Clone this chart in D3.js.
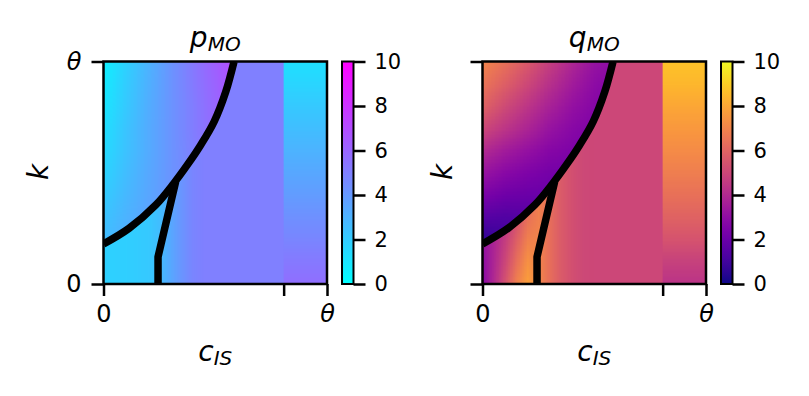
<!DOCTYPE html>
<meta charset="utf-8">
<style>
    body { margin: 0; background: #fff; }
    text { font-family: "DejaVu Sans", sans-serif; }
    .domain { display: none; }
</style>
<script src="https://cdn.jsdelivr.net/npm/d3@7"></script>

<div id="svg-holder"></div>

<script>
    /* Data, in units of theta. */
    var colorTicks = [0, 2, 4, 6, 8, 10];
    var xTickValues = [0, 0.806, 1];
    var xTickLabels = ["0", "", "θ"];
    var yTickValues = [0, 1];
    var yTickLabels = ["0", "θ"];
    var stripStart = 0.806;

    // thick boundary curve
    var curveX = [0, 0.114, 0.233, 0.315, 0.375, 0.435, 0.495, 0.547, 0.584];
    var curveY = [0.18, 0.25, 0.354, 0.453, 0.535, 0.625, 0.73, 0.864, 1.0];
    // branch going down from the curve
    var branchX = [0.323, 0.244, 0.244];
    var branchY = [0.46, 0.122, -0.05];

    // sample positions of the value grids (rows listed top to bottom)
    var gridAX = [0, 0.1, 0.2, 0.3, 0.4, 0.5, 0.6];
    var gridAY = [1.0, 0.9, 0.8, 0.7, 0.6, 0.5, 0.4, 0.3, 0.2, 0.1];
    var gridBX = [0, 0.05, 0.1, 0.15, 0.2, 0.25, 0.3, 0.35, 0.4, 0.45, 0.5, 0.55, 0.6, 0.65, 0.7, 0.75, 0.8];
    var gridBY = [1.0, 0.9, 0.8, 0.7, 0.6, 0.5, 0.4, 0.3, 0.2, 0.1, 0.0];
    var stripY = [1.0, 0.9, 0.8, 0.7, 0.6, 0.5, 0.4, 0.3, 0.2, 0.1, 0.0];

    // p_MO: above the curve
    var pAbove = [
        [0.6, 1.8, 3.0, 4.2, 5.3, 6.3, 7.2],
        [0.8, 2.0, 3.1, 4.2, 5.2, 6.1, 7.0],
        [1.0, 2.1, 3.2, 4.2, 5.1, 6.0, 6.8],
        [1.2, 2.3, 3.3, 4.2, 5.1, 5.9, 6.6],
        [1.4, 2.4, 3.3, 4.2, 5.0, 5.7, 6.4],
        [1.7, 2.6, 3.4, 4.2, 4.9, 5.5, 6.2],
        [2.0, 2.8, 3.5, 4.2, 4.8, 5.4, 6.0],
        [2.3, 3.0, 3.6, 4.2, 4.8, 5.3, 5.8],
        [2.6, 3.2, 3.7, 4.2, 4.7, 5.2, 5.6],
        [2.9, 3.4, 3.8, 4.2, 4.6, 5.0, 5.4]
    ];
    // p_MO: below / right of the curve (same for every row)
    var pBelow = [
        [1.8, 1.85, 1.9, 2.0, 2.1, 2.6, 3.4, 4.2, 4.8, 5.0, 5.0, 5.0, 5.0, 5.0, 5.0, 5.0, 5.0]
    ];
    // p_MO: right strip
    var pStrip = [1.2, 1.65, 2.1, 2.55, 3.0, 3.45, 3.9, 4.35, 4.8, 5.25, 5.7];

    // q_MO: above the curve
    var qAbove = [
        [7.0, 6.4, 5.6, 4.7, 3.9, 3.2, 2.9],
        [6.5, 5.8, 5.0, 4.2, 3.5, 2.9, 2.6],
        [5.9, 5.1, 4.4, 3.7, 3.1, 2.7, 2.4],
        [5.0, 4.4, 3.8, 3.2, 2.8, 2.5, 2.3],
        [4.0, 3.5, 3.1, 2.7, 2.5, 2.3, 2.2],
        [3.2, 2.8, 2.5, 2.3, 2.2, 2.1, 2.0],
        [2.4, 2.1, 2.0, 2.0, 2.0, 2.0, 2.0],
        [1.5, 1.4, 1.5, 1.7, 1.8, 1.9, 1.9],
        [0.6, 0.9, 1.2, 1.5, 1.7, 1.8, 1.9],
        [0.2, 0.6, 1.0, 1.4, 1.6, 1.7, 1.8]
    ];
    // q_MO: below / right of the curve
    var qBelow = [
        [3.6, 3.8, 4.2, 4.9, 5.9, 6.9, 6.3, 5.7, 5.3, 5.05, 5.0, 5.0, 5.0, 5.0, 5.0, 5.0, 5.0],
        [3.6, 3.8, 4.2, 4.9, 5.9, 6.9, 6.3, 5.7, 5.3, 5.05, 5.0, 5.0, 5.0, 5.0, 5.0, 5.0, 5.0],
        [3.6, 3.8, 4.2, 4.9, 5.9, 6.9, 6.3, 5.7, 5.3, 5.05, 5.0, 5.0, 5.0, 5.0, 5.0, 5.0, 5.0],
        [3.6, 3.8, 4.2, 4.9, 5.9, 6.9, 6.3, 5.7, 5.3, 5.05, 5.0, 5.0, 5.0, 5.0, 5.0, 5.0, 5.0],
        [3.6, 3.8, 4.2, 4.9, 5.9, 6.9, 6.3, 5.7, 5.3, 5.05, 5.0, 5.0, 5.0, 5.0, 5.0, 5.0, 5.0],
        [3.6, 3.8, 4.2, 4.9, 5.9, 6.9, 6.3, 5.7, 5.3, 5.05, 5.0, 5.0, 5.0, 5.0, 5.0, 5.0, 5.0],
        [3.6, 3.8, 4.2, 4.9, 5.9, 6.9, 6.3, 5.7, 5.3, 5.05, 5.0, 5.0, 5.0, 5.0, 5.0, 5.0, 5.0],
        [3.4, 3.8, 4.4, 5.3, 6.4, 6.9, 6.3, 5.7, 5.3, 5.05, 5.0, 5.0, 5.0, 5.0, 5.0, 5.0, 5.0],
        [3.2, 3.8, 4.7, 5.8, 6.9, 7.0, 6.3, 5.7, 5.3, 5.05, 5.0, 5.0, 5.0, 5.0, 5.0, 5.0, 5.0],
        [3.0, 3.9, 5.0, 6.3, 7.4, 7.0, 6.3, 5.7, 5.3, 5.05, 5.0, 5.0, 5.0, 5.0, 5.0, 5.0, 5.0],
        [2.8, 4.0, 5.4, 6.9, 7.8, 7.1, 6.3, 5.7, 5.3, 5.05, 5.0, 5.0, 5.0, 5.0, 5.0, 5.0, 5.0]
    ];
    // q_MO: right strip
    var qStrip = [8.7, 8.4, 8.0, 7.6, 7.2, 6.8, 6.4, 5.9, 5.4, 4.8, 4.3];

    /* Layout. */
    var width = 809, height = 396;
    var plotW = 223.5, plotH = 222.5, plotTop = 61.5;
    var cbarW = 11.5;
    var line_w = 2.5;

    var svg = d3.select("#svg-holder").append("svg")
        .attr("width", width).attr("height", height);
    var defs = svg.append("defs");

    var coolScale = d3.scaleSequential(d3.interpolateRgb("#00ffff", "#ff00ff")).domain([0, 10]);
    var plasmaScale = d3.scaleSequential(d3.interpolatePlasma).domain([0, 10]);

    // turns a small value grid into a picture; the browser smooths it when scaled
    function gridImage(values, color) {
        var nr = values.length, nc = values[0].length;
        var canvas = document.createElement("canvas");
        canvas.width = nc; canvas.height = nr;
        var ctx = canvas.getContext("2d");
        var img = ctx.createImageData(nc, nr);
        for (var r = 0; r < nr; r++) {
            for (var c = 0; c < nc; c++) {
                var col = d3.rgb(color(values[r][c]));
                var k = (r * nc + c) * 4;
                img.data[k] = col.r; img.data[k + 1] = col.g; img.data[k + 2] = col.b; img.data[k + 3] = 255;
            }
        }
        ctx.putImageData(img, 0, 0);
        return canvas.toDataURL();
    }

    function extent(arr, lo, hi) {
        if (arr.length < 2) return [lo, hi];
        var step = arr[1] - arr[0];
        return [arr[0] - step / 2, arr[arr.length - 1] + step / 2];
    }

    function drawGrid(g, xs, ys, values, color, x, y, clip) {
        var ex = extent(xs, 0, 1);
        var ey = extent(ys, 1, 0);
        g.append("image")
            .attr("href", gridImage(values, color))
            .attr("x", x(ex[0])).attr("y", y(ey[0]))
            .attr("width", x(ex[1]) - x(ex[0]))
            .attr("height", y(ey[1]) - y(ey[0]))
            .attr("preserveAspectRatio", "none")
            .attr("clip-path", "url(#" + clip + ")");
    }

    function drawPanel(opt) {
        var x = d3.scaleLinear().domain([0, 1]).range([opt.left, opt.left + plotW]);
        var y = d3.scaleLinear().domain([0, 1]).range([plotTop + plotH, plotTop]);
        var id = opt.id;

        var line = d3.line().x(function(d) { return x(d[0]); }).y(function(d) { return y(d[1]); });
        var curvePts = d3.zip(curveX, curveY);
        var curvePath = line.curve(d3.curveCatmullRom)(curvePts);
        var curveTail = "L" + curvePath.slice(1);

        defs.append("clipPath").attr("id", id + "-above").append("path")
            .attr("d", "M" + x(0) + "," + y(1) + curveTail + "Z");
        // the strip is painted over the right end of this one
        defs.append("clipPath").attr("id", id + "-below").append("path")
            .attr("d", "M" + x(0) + "," + y(0) + curveTail +
                  "L" + x(1) + "," + y(1) + "L" + x(1) + "," + y(0) + "Z");
        defs.append("clipPath").attr("id", id + "-strip").append("rect")
            .attr("x", x(stripStart)).attr("y", y(1))
            .attr("width", x(1) - x(stripStart)).attr("height", y(0) - y(1));
        defs.append("clipPath").attr("id", id + "-frame").append("rect")
            .attr("x", x(0)).attr("y", y(1))
            .attr("width", x(1) - x(0)).attr("height", y(0) - y(1));

        var g = svg.append("g");
        drawGrid(g, gridAX, gridAY, opt.above, opt.color, x, y, id + "-above");
        drawGrid(g, gridBX, opt.below.length > 1 ? gridBY : [0.5], opt.below, opt.color, x, y, id + "-below");
        drawGrid(g, [0.9], stripY, opt.strip.map(function(v) { return [v]; }), opt.color, x, y, id + "-strip");

        // thick black lines
        var lines = g.append("g").attr("clip-path", "url(#" + id + "-frame)")
            .attr("fill", "none").attr("stroke", "#000").attr("stroke-width", 7.5)
            .attr("stroke-linejoin", "round");
        lines.append("path").attr("d", line.curve(d3.curveCatmullRom)(curvePts));
        lines.append("path").attr("d", line.curve(d3.curveLinear)(d3.zip(branchX, branchY)));

        // frame
        g.append("rect").attr("x", x(0)).attr("y", y(1))
            .attr("width", x(1) - x(0)).attr("height", y(0) - y(1))
            .attr("fill", "none").attr("stroke", "#000").attr("stroke-width", line_w);

        // axes
        var xAxis = d3.axisBottom(x).tickValues(xTickValues).tickSize(12).tickPadding(9)
            .tickFormat(function(d, i) { return xTickLabels[i]; });
        var yAxis = d3.axisLeft(y).tickValues(yTickValues).tickSize(12).tickPadding(10)
            .tickFormat(function(d, i) { return opt.yLabels ? yTickLabels[i] : ""; });
        var gx = g.append("g").attr("transform", "translate(0," + y(0) + ")").call(xAxis);
        var gy = g.append("g").attr("transform", "translate(" + x(0) + ",0)").call(yAxis);
        [gx, gy].forEach(function(a) {
            a.selectAll(".tick line").attr("stroke", "#000").attr("stroke-width", line_w);
            a.selectAll(".tick text").attr("fill", "#000")
                .style("font-size", "24px")
                .style("font-style", function() { return this.textContent === "θ" ? "italic" : "normal"; });
        });

        // title
        var cx = x(0.5);
        var title = g.append("text").attr("x", cx).attr("y", 47).attr("text-anchor", "middle")
            .style("font-style", "italic");
        title.append("tspan").style("font-size", "28px").text(opt.title[0]);
        title.append("tspan").style("font-size", "20px").attr("dy", 4).text(opt.title[1]);

        // axis labels
        var xl = g.append("text").attr("x", cx).attr("y", 361).attr("text-anchor", "middle")
            .style("font-style", "italic");
        xl.append("tspan").style("font-size", "28px").text("c");
        xl.append("tspan").style("font-size", "20px").attr("dy", 4).text("IS");

        g.append("text").attr("transform", "translate(" + (opt.left - opt.kGap) + "," + 172 + ") rotate(-90)")
            .attr("text-anchor", "middle").style("font-style", "italic").style("font-size", "28px")
            .text("k");

        // colorbar
        var cbLeft = opt.left + plotW + 15;
        var cy = d3.scaleLinear().domain([0, 10]).range([plotTop + plotH, plotTop]);
        var grad = defs.append("linearGradient").attr("id", id + "-grad")
            .attr("x1", 0).attr("y1", 1).attr("x2", 0).attr("y2", 0);
        d3.range(0, 10.01, 0.5).forEach(function(v) {
            grad.append("stop").attr("offset", v / 10).attr("stop-color", opt.color(v));
        });
        g.append("rect").attr("x", cbLeft).attr("y", cy(10))
            .attr("width", cbarW).attr("height", cy(0) - cy(10))
            .attr("fill", "url(#" + id + "-grad)")
            .attr("stroke", "#000").attr("stroke-width", 2);
        var cAxis = d3.axisRight(cy).tickValues(colorTicks).tickSize(12).tickPadding(9);
        var gc = g.append("g").attr("transform", "translate(" + (cbLeft + cbarW) + ",0)").call(cAxis);
        gc.selectAll(".tick line").attr("stroke", "#000").attr("stroke-width", line_w);
        gc.selectAll(".tick text").attr("fill", "#000").style("font-size", "21px");
    }

    drawPanel({ id: "p", left: 103.5, color: coolScale, above: pAbove, below: pBelow, strip: pStrip,
                title: ["p", "MO"], yLabels: true, kGap: 55.5 });
    drawPanel({ id: "q", left: 482.5, color: plasmaScale, above: qAbove, below: qBelow, strip: qStrip,
                title: ["q", "MO"], yLabels: false, kGap: 30.5 });
</script>
